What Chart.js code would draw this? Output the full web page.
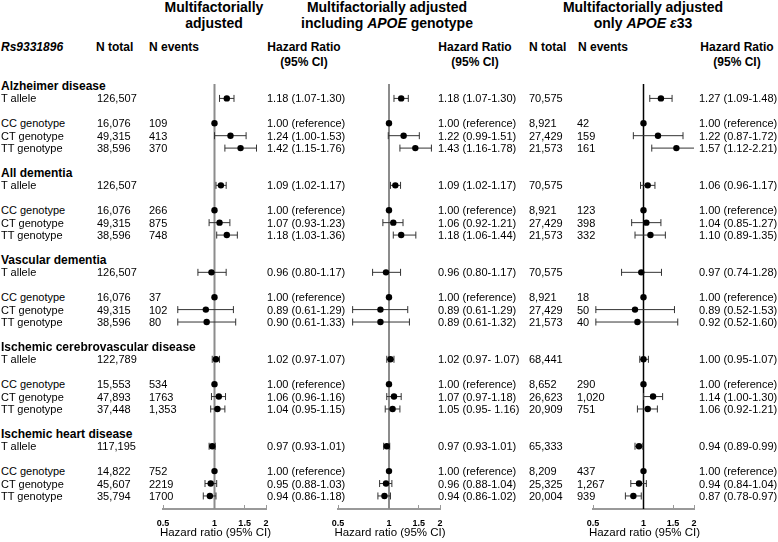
<!DOCTYPE html>
<html lang="en">
<head>
<meta charset="UTF-8">
<title>Rs9331896 hazard ratios</title>
<script src="https://cdn.jsdelivr.net/npm/chart.js"></script>
<style>
    body { margin: 0; width: 778px; height: 542px; position: relative; overflow: hidden; background: #fff;
           font-family: "Liberation Sans", Arial, sans-serif; color: #000; }
    .t { position: absolute; white-space: nowrap; font-size: 11px; line-height: 14px; }
    .b { font-weight: bold; font-size: 12px; }
    .hd { position: absolute; font-weight: bold; font-size: 12px; line-height: 15px; text-align: center; width: 110px; white-space: nowrap; }
    .title { position: absolute; font-weight: bold; font-size: 14px; line-height: 16.5px; text-align: center; width: 260px; white-space: nowrap; }
    .ax { position: absolute; font-size: 11.5px; line-height: 14px; text-align: center; width: 160px; white-space: nowrap; }
    canvas { position: absolute; }
</style>
</head>
<body>
<canvas id="p1"></canvas>
<canvas id="p2"></canvas>
<canvas id="p3"></canvas>

<script>
    // ---- data ----
    const groups = ['Alzheimer disease', 'All dementia', 'Vascular dementia',
                    'Ischemic cerebrovascular disease', 'Ischemic heart disease'];
    const rowLabels = ['T allele', 'CC genotype', 'CT genotype', 'TT genotype'];
    const xTicks = [0.5, 1, 1.5, 2];

    // multifactorially adjusted (all)
    const nTotal1 = [
        ['126,507', '16,076', '49,315', '38,596'],
        ['126,507', '16,076', '49,315', '38,596'],
        ['126,507', '16,076', '49,315', '38,596'],
        ['122,789', '15,553', '47,893', '37,448'],
        ['117,195', '14,822', '45,607', '35,794']
    ];
    const nEvents1 = [
        ['', '109', '413', '370'],
        ['', '266', '875', '748'],
        ['', '37', '102', '80'],
        ['', '534', '1763', '1,353'],
        ['', '752', '2219', '1700']
    ];
    const hr1 = [[1.18, 1, 1.24, 1.42], [1.09, 1, 1.07, 1.18], [0.96, 1, 0.89, 0.90], [1.02, 1, 1.06, 1.04], [0.97, 1, 0.95, 0.94]];
    const lo1 = [[1.07, null, 1.00, 1.15], [1.02, null, 0.93, 1.03], [0.80, null, 0.61, 0.61], [0.97, null, 0.96, 0.95], [0.93, null, 0.88, 0.86]];
    const hi1 = [[1.30, null, 1.53, 1.76], [1.17, null, 1.23, 1.36], [1.17, null, 1.29, 1.33], [1.07, null, 1.16, 1.15], [1.01, null, 1.03, 1.02]];
    const hrText1 = [
        ['1.18 (1.07-1.30)', '1.00 (reference)', '1.24 (1.00-1.53)', '1.42 (1.15-1.76)'],
        ['1.09 (1.02-1.17)', '1.00 (reference)', '1.07 (0.93-1.23)', '1.18 (1.03-1.36)'],
        ['0.96 (0.80-1.17)', '1.00 (reference)', '0.89 (0.61-1.29)', '0.90 (0.61-1.33)'],
        ['1.02 (0.97-1.07)', '1.00 (reference)', '1.06 (0.96-1.16)', '1.04 (0.95-1.15)'],
        ['0.97 (0.93-1.01)', '1.00 (reference)', '0.95 (0.88-1.03)', '0.94 (0.86-1.18)']
    ];

    // adjusted including APOE genotype
    const hr2 = [[1.18, 1, 1.22, 1.43], [1.09, 1, 1.06, 1.18], [0.96, 1, 0.89, 0.89], [1.02, 1, 1.07, 1.05], [0.97, 1, 0.96, 0.94]];
    const lo2 = [[1.07, null, 0.99, 1.16], [1.02, null, 0.92, 1.06], [0.80, null, 0.61, 0.61], [0.97, null, 0.97, 0.95], [0.93, null, 0.88, 0.86]];
    const hi2 = [[1.30, null, 1.51, 1.78], [1.17, null, 1.21, 1.44], [1.17, null, 1.29, 1.32], [1.07, null, 1.18, 1.16], [1.01, null, 1.04, 1.02]];
    const hrText2 = [
        ['1.18 (1.07-1.30)', '1.00 (reference)', '1.22 (0.99-1.51)', '1.43 (1.16-1.78)'],
        ['1.09 (1.02-1.17)', '1.00 (reference)', '1.06 (0.92-1.21)', '1.18 (1.06-1.44)'],
        ['0.96 (0.80-1.17)', '1.00 (reference)', '0.89 (0.61-1.29)', '0.89 (0.61-1.32)'],
        ['1.02 (0.97- 1.07)', '1.00 (reference)', '1.07 (0.97-1.18)', '1.05 (0.95- 1.16)'],
        ['0.97 (0.93-1.01)', '1.00 (reference)', '0.96 (0.88-1.04)', '0.94 (0.86-1.02)']
    ];

    // adjusted, only APOE e33
    const nTotal3 = [
        ['70,575', '8,921', '27,429', '21,573'],
        ['70,575', '8,921', '27,429', '21,573'],
        ['70,575', '8,921', '27,429', '21,573'],
        ['68,441', '8,652', '26,623', '20,909'],
        ['65,333', '8,209', '25,325', '20,004']
    ];
    const nEvents3 = [
        ['', '42', '159', '161'],
        ['', '123', '398', '332'],
        ['', '18', '50', '40'],
        ['', '290', '1,020', '751'],
        ['', '437', '1,267', '939']
    ];
    const hr3 = [[1.27, 1, 1.22, 1.57], [1.06, 1, 1.04, 1.10], [0.97, 1, 0.89, 0.92], [1.00, 1, 1.14, 1.06], [0.94, 1, 0.94, 0.87]];
    const lo3 = [[1.09, null, 0.87, 1.12], [0.96, null, 0.85, 0.89], [0.74, null, 0.52, 0.52], [0.95, null, 1.00, 0.92], [0.89, null, 0.84, 0.78]];
    const hi3 = [[1.48, null, 1.72, 2.21], [1.17, null, 1.27, 1.35], [1.28, null, 1.53, 1.60], [1.07, null, 1.30, 1.21], [0.99, null, 1.04, 0.97]];
    const hrText3 = [
        ['1.27 (1.09-1.48)', '1.00 (reference)', '1.22 (0.87-1.72)', '1.57 (1.12-2.21)'],
        ['1.06 (0.96-1.17)', '1.00 (reference)', '1.04 (0.85-1.27)', '1.10 (0.89-1.35)'],
        ['0.97 (0.74-1.28)', '1.00 (reference)', '0.89 (0.52-1.53)', '0.92 (0.52-1.60)'],
        ['1.00 (0.95-1.07)', '1.00 (reference)', '1.14 (1.00-1.30)', '1.06 (0.92-1.21)'],
        ['0.94 (0.89-0.99)', '1.00 (reference)', '0.94 (0.84-1.04)', '0.87 (0.78-0.97)']
    ];

    // ---- layout ----
    const rowOffsets = [1, 3, 4, 5];   // rows inside a group, heading is row 0
    const rowsPerGroup = 7;
    const Y_MIN = -0.16, Y_MAX = 34.05;
    const PLOT_TOP = 79;
    const FONT = 'Liberation Sans, Arial, sans-serif';

    function makePanel(id, left, right, hr, lo, hi, refColor, refWidth) {
        const cv = document.getElementById(id);
        const pad = 20;
        const w = right - left + 2 * pad, h = 542 - PLOT_TOP;
        cv.width = w; cv.height = h;
        cv.style.left = (left - pad) + 'px'; cv.style.top = PLOT_TOP + 'px';
        cv.style.width = w + 'px'; cv.style.height = h + 'px';

        const est = [], ci = [];
        groups.forEach((g, gi) => {
            rowOffsets.forEach((off, ri) => {
                const y = gi * rowsPerGroup + off;
                est.push({ x: hr[gi][ri], y: y });
                if (lo[gi][ri] != null) {
                    ci.push({ x: lo[gi][ri], y: y }, { x: hi[gi][ri], y: y }, { x: 1, y: null });
                }
            });
        });

        return new Chart(cv, {
            type: 'scatter',
            data: {
                datasets: [
                    { data: est, pointStyle: 'circle', pointRadius: 3.2, backgroundColor: '#000', borderColor: '#000', borderWidth: 0 },
                    { data: ci, showLine: true, spanGaps: false, borderColor: '#333', borderWidth: 1,
                      pointStyle: 'line', rotation: 90, pointRadius: 3.5, pointBorderColor: '#333', pointBorderWidth: 1 },
                    { data: [{ x: 1, y: Y_MIN }, { x: 1, y: Y_MAX }], showLine: true,
                      borderColor: refColor, borderWidth: refWidth, pointRadius: 0 }
                ]
            },
            options: {
                responsive: false,
                animation: false,
                events: [],
                layout: { padding: { left: pad, right: pad, top: 0, bottom: 0 } },
                plugins: { legend: { display: false }, tooltip: { enabled: false } },
                scales: {
                    x: {
                        type: 'logarithmic', min: 0.5, max: 2,
                        afterBuildTicks: s => { s.ticks = xTicks.map(v => ({ value: v })); },
                        afterFit: s => { s.height = 33; },
                        grid: { drawOnChartArea: false, tickLength: -4, color: '#999', lineWidth: 1 },
                        border: { color: '#999', width: 2 },
                        ticks: { padding: 13, autoSkip: false, maxRotation: 0, color: '#000',
                                 font: { family: FONT, size: 9, weight: 'bold' },
                                 callback: v => String(v) },
                        title: { display: false }
                    },
                    y: { type: 'linear', reverse: true, min: Y_MIN, max: Y_MAX, display: false }
                }
            }
        });
    }

    const chart1 = makePanel('p1', 163, 266, hr1, lo1, hi1, '#8c8c8c', 2);
    const chart2 = makePanel('p2', 338, 440, hr2, lo2, hi2, '#8c8c8c', 2);
    const chart3 = makePanel('p3', 593, 694, hr3, lo3, hi3, '#000', 1.5);

    // ---- text columns ----
    const rowY = r => PLOT_TOP + chart1.scales.y.getPixelForValue(r);

    function addText(html, x, y, cls) {
        const el = document.createElement('div');
        el.className = 't' + (cls ? ' ' + cls : '');
        el.innerHTML = html;
        el.style.left = x + 'px';
        el.style.top = (y - 7) + 'px';
        document.body.appendChild(el);
    }
    function addBlock(html, cx, y, cls, w) {
        const el = document.createElement('div');
        el.className = cls;
        el.innerHTML = html;
        el.style.left = (cx - w / 2) + 'px';
        el.style.top = y + 'px';
        document.body.appendChild(el);
    }

    // panel titles
    addBlock('Multifactorially<br>adjusted', 214, -1.5, 'title', 260);
    addBlock('Multifactorially adjusted<br>including <i>APOE</i> genotype', 387, -1.5, 'title', 260);
    addBlock('Multifactorially adjusted<br>only <i>APOE \u03b5</i>33', 643, -1.5, 'title', 260);

    // axis titles, centred under each axis
    [chart1, chart2, chart3].forEach(c => {
        const x = c.scales.x;
        const cx = parseFloat(c.canvas.style.left) + (x.left + x.right) / 2 + 1;
        addBlock('Hazard ratio (95% CI)', cx, 525, 'ax', 160);
    });

    // column headers
    addText('<i>Rs9331896</i>', 1, 47, 'b');
    addText('N total', 96, 47, 'b');
    addText('N events', 149, 47, 'b');
    addBlock('Hazard Ratio<br>(95% CI)', 304, 39.5, 'hd', 110);
    addBlock('Hazard Ratio<br>(95% CI)', 475, 39.5, 'hd', 110);
    addText('N total', 529, 47, 'b');
    addText('N events', 578, 47, 'b');
    addBlock('Hazard Ratio<br>(95% CI)', 737, 39.5, 'hd', 110);

    groups.forEach((g, gi) => {
        addText(g, 1, rowY(gi * rowsPerGroup), 'b');
        rowOffsets.forEach((off, ri) => {
            const y = rowY(gi * rowsPerGroup + off);
            addText(rowLabels[ri], 1, y);
            addText(nTotal1[gi][ri], 97, y);
            addText(nEvents1[gi][ri], 149, y);
            addText(hrText1[gi][ri], 267, y);
            addText(hrText2[gi][ri], 438, y);
            addText(nTotal3[gi][ri], 529, y);
            addText(nEvents3[gi][ri], 577, y);
            addText(hrText3[gi][ri], 699, y);
        });
    });
</script>
</body>
</html>
